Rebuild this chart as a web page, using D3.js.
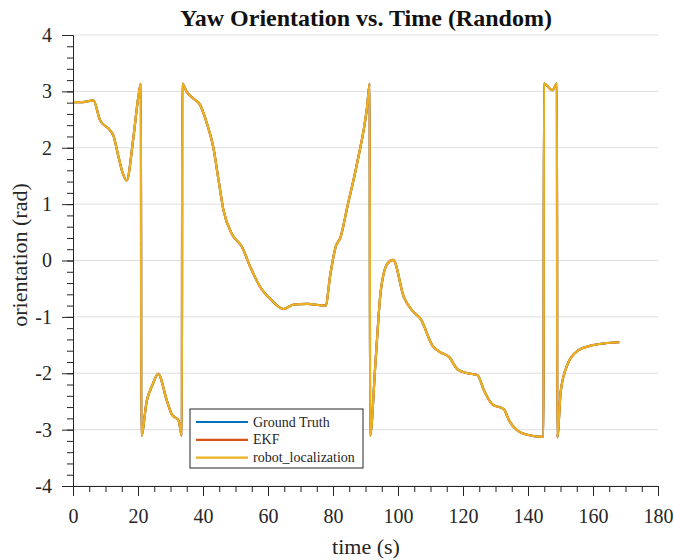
<!DOCTYPE html>
<html>
<head>
<meta charset="utf-8">
<script src="https://cdn.jsdelivr.net/npm/d3@7"></script>
<style>
  body { margin: 0; background: #fff; }
  text { font-family: "Liberation Serif", "Times New Roman", serif; }
</style>
</head>
<body>
<div id="chart"></div>
<script>
// time (s) and yaw (rad)
var timeVals = [0, 3, 6.3, 8.3, 11.4, 12.4, 14, 15.3, 16.5, 18.6, 20.1, 20.9,
    21.0, 22.7, 24.5, 26.2, 28.9, 30.4, 32.5, 33.5,
    33.6, 35, 37.1, 39.1, 41.2, 43.2, 44.8, 46.3, 48.9, 52, 54.6, 57.6, 61.2, 64.8, 67.9, 72, 77.7, 79.2, 80.8, 82.3, 84.4, 87.4, 90.5, 91.3,
    91.4, 93.1, 94.6, 96.7, 98.5, 101.8, 104.4, 107, 110.6, 113.1, 115.7, 118.3, 121.4, 124.4, 126.5, 129, 132.6, 134.2, 136.8, 139.8, 144.8,
    144.9, 147.5, 148.9,
    149.0, 150.1, 152.2, 155.3, 159.4, 163.5, 168.1];
var yawVals = [2.81, 2.81, 2.84, 2.49, 2.31, 2.22, 1.84, 1.55, 1.42, 2.19, 2.9, 3.14,
    -3.11, -2.49, -2.2, -2.01, -2.49, -2.73, -2.84, -3.11,
    3.14, 2.99, 2.87, 2.76, 2.43, 2.0, 1.42, 0.89, 0.47, 0.24, -0.12, -0.47, -0.71, -0.86, -0.78, -0.77, -0.8, -0.24, 0.24, 0.41, 0.95, 1.72, 2.73, 3.14,
    -3.11, -1.78, -0.59, -0.06, 0.01, -0.65, -0.89, -1.04, -1.51, -1.63, -1.71, -1.93, -2.0, -2.03, -2.31, -2.55, -2.64, -2.84, -3.02, -3.09, -3.13,
    3.14, 3.02, 3.14,
    -3.14, -2.31, -1.84, -1.6, -1.51, -1.47, -1.45];

var seriesNames = ["Ground Truth", "EKF", "robot_localization"];
var seriesColors = ["#0072BD", "#D95319", "#EDB120"];

var xTicks = [0, 20, 40, 60, 80, 100, 120, 140, 160, 180];
var yTicks = [-4, -3, -2, -1, 0, 1, 2, 3, 4];

var width = 674, height = 560;
var plotL = 73, plotR = 658, plotT = 35, plotB = 486;

var svg = d3.select("#chart").append("svg")
    .attr("width", width)
    .attr("height", height);

var x = d3.scaleLinear().domain([0, 180]).range([plotL, plotR]);
var y = d3.scaleLinear().domain([-4, 4]).range([plotB, plotT]);

// plain hyphen for negatives, like the original
var fmt = function (d) { return String(d); };

/* horizontal grid */
svg.append("g").selectAll("line")
    .data(yTicks)
    .enter().append("line")
    .attr("x1", plotL).attr("x2", plotR)
    .attr("y1", function (d) { return y(d); })
    .attr("y2", function (d) { return y(d); })
    .attr("stroke", "#dedede")
    .attr("stroke-width", 1);

/* the three series sit on top of each other, yellow last */
var pts = timeVals.map(function (t, i) { return [t, yawVals[i]]; });
var line = d3.line()
    .x(function (d) { return x(d[0]); })
    .y(function (d) { return y(d[1]); })
    .curve(d3.curveMonotoneX);

seriesNames.forEach(function (name, i) {
    svg.append("path")
        .datum(pts)
        .attr("fill", "none")
        .attr("stroke", seriesColors[i])
        .attr("stroke-width", 2.2)
        .attr("stroke-linejoin", "round")
        .attr("d", line);
});

/* axes: major + minor ticks */
svg.append("g")
    .attr("transform", "translate(0," + plotB + ")")
    .call(d3.axisBottom(x).tickValues(xTicks).tickFormat(fmt).tickSize(10).tickPadding(13));
svg.append("g")
    .attr("transform", "translate(0," + plotB + ")")
    .call(d3.axisBottom(x).tickValues(d3.range(0, 181, 5)).tickSize(6).tickFormat(""))
    .select(".domain").remove();

svg.append("g")
    .attr("transform", "translate(" + plotL + ",0)")
    .call(d3.axisLeft(y).tickValues(yTicks).tickFormat(fmt).tickSize(11).tickPadding(10));
svg.append("g")
    .attr("transform", "translate(" + plotL + ",0)")
    .call(d3.axisLeft(y).tickValues(d3.range(-4, 4.01, 0.2)).tickSize(6).tickFormat(""))
    .select(".domain").remove();

svg.selectAll(".domain").attr("stroke", "#262626");
svg.selectAll(".tick line").attr("stroke", "#262626");
svg.selectAll(".tick text")
    .attr("fill", "#262626")
    .style("font-size", "20px")
    .style("font-family", "'Liberation Serif', serif");

/* titles */
svg.append("text")
    .attr("x", 366).attr("y", 26)
    .attr("text-anchor", "middle")
    .style("font-size", "24px")
    .style("font-weight", "bold")
    .attr("fill", "#111")
    .text("Yaw Orientation vs. Time (Random)");

svg.append("text")
    .attr("x", 366).attr("y", 554)
    .attr("text-anchor", "middle")
    .style("font-size", "22px")
    .attr("fill", "#262626")
    .text("time (s)");

svg.append("text")
    .attr("transform", "translate(27,255) rotate(-90)")
    .attr("text-anchor", "middle")
    .style("font-size", "22px")
    .attr("fill", "#262626")
    .text("orientation (rad)");

/* legend */
var legend = svg.append("g").attr("transform", "translate(190,409)");
legend.append("rect")
    .attr("width", 173).attr("height", 59)
    .attr("fill", "#fff")
    .attr("stroke", "#262626")
    .attr("stroke-width", 1);
var item = legend.selectAll("g.item")
    .data(seriesNames)
    .enter().append("g")
    .attr("class", "item")
    .attr("transform", function (d, i) { return "translate(0," + (13 + i * 17.8) + ")"; });
item.append("line")
    .attr("x1", 6).attr("x2", 58)
    .attr("stroke", function (d, i) { return seriesColors[i]; })
    .attr("stroke-width", 2.2);
item.append("text")
    .attr("x", 63).attr("y", 4.5)
    .style("font-size", "14px")
    .attr("fill", "#262626")
    .text(function (d) { return d; });
</script>
</body>
</html>
